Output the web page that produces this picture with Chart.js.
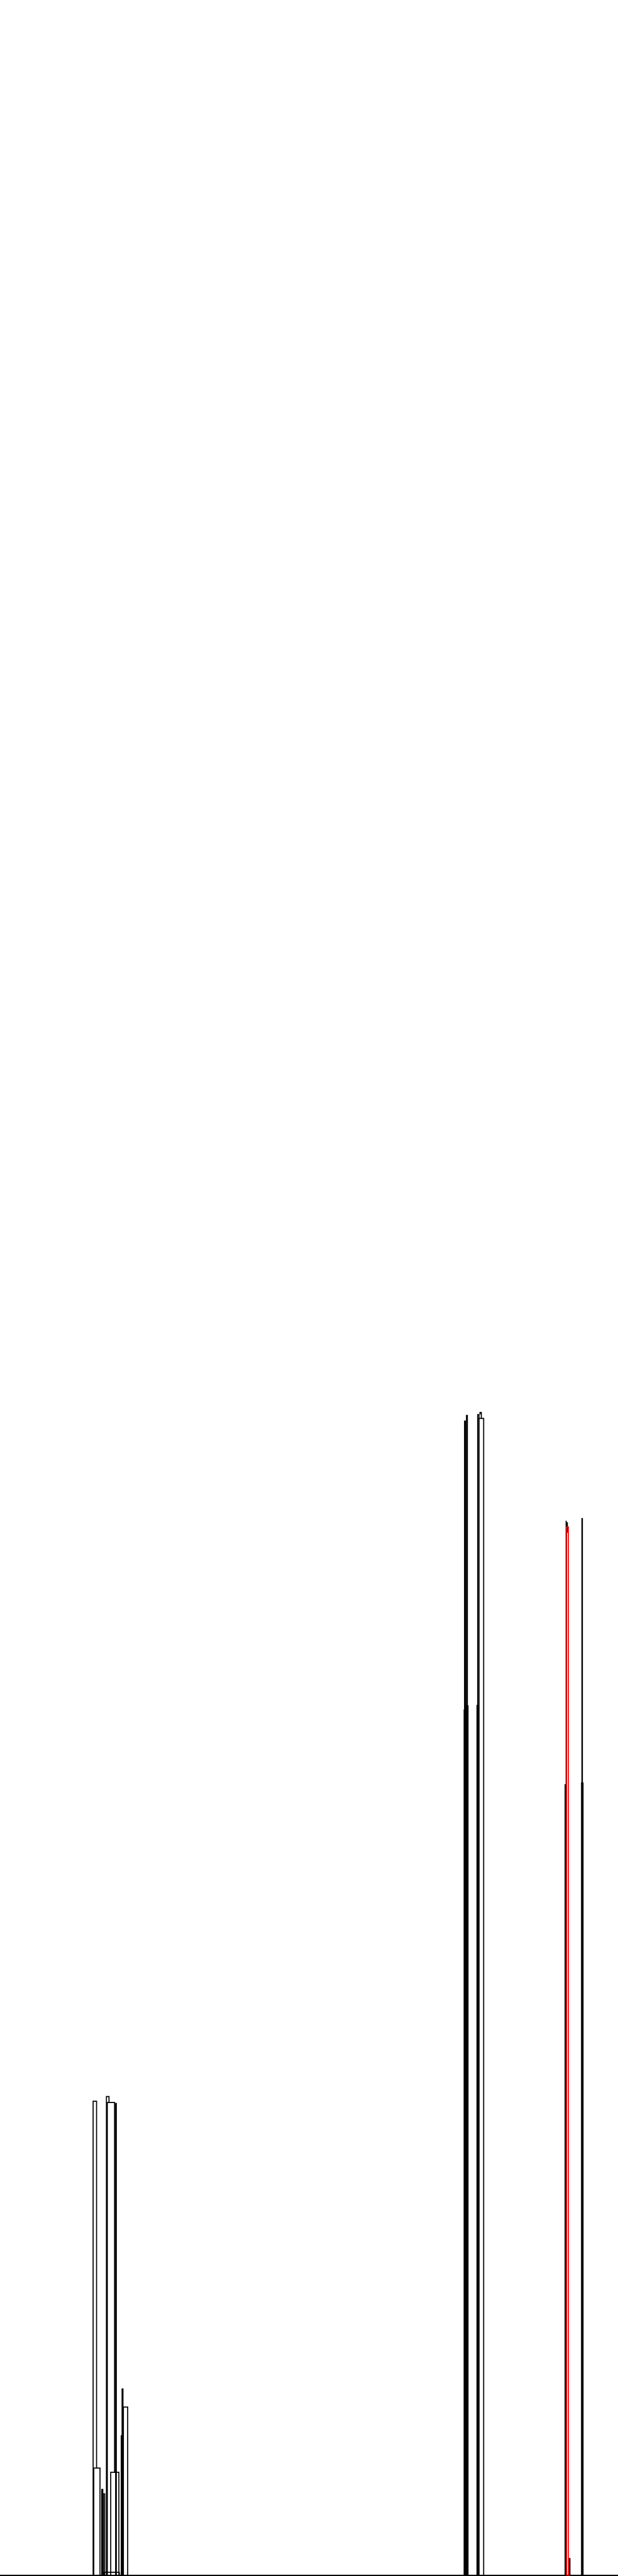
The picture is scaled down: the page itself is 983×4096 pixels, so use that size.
<!DOCTYPE html>
<html><head><meta charset="utf-8">
<script src="https://cdn.jsdelivr.net/npm/chart.js@4/dist/chart.umd.min.js"></script>
<style>html,body{margin:0;padding:0;background:#fff}#wrap{width:983px;height:4096px;position:relative}</style>
</head><body><div id="wrap"><canvas id="c"></canvas></div>
<script>
// Dendrogram links: each link joins a left and a right child at a merge height.
const linkLeftX        = [217,   248,   250,   269.5, 284.5, 287.5, 282.5, 218.5, 258,   237,   241,   242,   1082.5, 1087,  1118.5, 1113,  1115.5, 1081.5, 1086,  1111.5, 1319.5, 1318.5, 1320,  1316.8, 1356,  1355,  1326.5];
const linkRightX       = [225,   254,   267,   271,   286.5, 297.5, 284,   233,   277,   239.5, 244,   278,   1084.5, 1089,  1121.5, 1116,  1127,   1086,   1090.5, 1113,   1324.5, 1319.5, 1322,  1318,   1357,  1358.5, 1328];
const linkHeight       = [1.104, 1.115, 1.101, 1.099, 0.434, 0.392, 0.325, 0.250, 0.240, 0.200, 0.190, 0.007, 2.688,  2.701, 2.708,  2.703, 2.694,  2.015,  2.025,  2.026,  2.441,  2.456,  2.451, 1.841,  2.461, 1.845,  0.039];
const leftChildHeight  = [0,     0,     0,     0,     0,     0,     0,     0,     0,     0,     0,     0,     0,      0,     2.703,  0,     0,      0,      0,      0,      0,      0,      0,     0,      1.845, 0,      0];
const rightChildHeight = [0.250, 1.101, 0.240, 0,     0,     0,     0,     0,     0,     0,     0,     0,     0,      0,     2.694,  0,     0,      0,      0,      0,      0,      0,      2.428, 0,      0,     0,      0];
const linkCluster      = [0,     0,     0,     0,     0,     0,     0,     0,     0,     0,     0,     0,     0,      0,     0,      0,     0,      0,      0,      0,      1,      0,      0,     0,      0,     0,      0];

const clusterColors = ['#000000', '#ff0000'];
const datasets = linkLeftX.map((lx, i) => ({
  data: [
    {x: lx, y: leftChildHeight[i]},
    {x: lx, y: linkHeight[i]},
    {x: linkRightX[i], y: linkHeight[i]},
    {x: linkRightX[i], y: rightChildHeight[i]}
  ],
  showLine: true,
  borderColor: clusterColors[linkCluster[i]],
  backgroundColor: clusterColors[linkCluster[i]],
  borderWidth: 1.7,
  pointRadius: 0,
  tension: 0,
  fill: false,
  order: linkCluster[i] === 1 ? 0 : 1
}));

new Chart(document.getElementById('c'), {
  type: 'scatter',
  data: { datasets },
  options: {
    responsive: true,
    maintainAspectRatio: false,
    animation: false,
    layout: { padding: { left: 0, right: 0, top: 0, bottom: 1 } },
    plugins: { legend: { display: false }, tooltip: { enabled: false }, title: { display: false } },
    scales: {
      x: { type: 'linear', min: 0, max: 1440, display: true,
           grid: { display: false, drawTicks: false },
           ticks: { display: false },
           border: { display: true, color: '#000000', width: 2 } },
      y: { type: 'linear', min: 0, max: 5.997, display: false }
    }
  }
});
</script>
</body></html>
